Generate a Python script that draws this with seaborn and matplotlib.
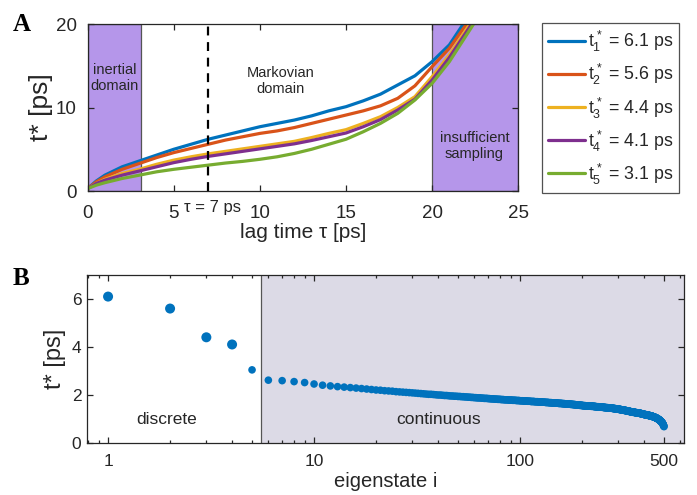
import numpy as np
import pandas as pd
import matplotlib
matplotlib.use("Agg")
import matplotlib.pyplot as plt
from matplotlib.ticker import FixedLocator, NullFormatter, LogLocator
import seaborn as sns

# ---------------- data ----------------
lag_time = [0, 0.5, 1, 2, 3, 4, 5, 6, 7, 8, 9, 10, 11, 12, 13, 14, 15, 16,
            17, 18, 19, 20, 21, 22, 23]
t1 = [0.3, 1.2, 1.9, 2.9, 3.6, 4.3, 5.0, 5.6, 6.2, 6.7, 7.2, 7.7, 8.1, 8.5,
      9.0, 9.6, 10.1, 10.8, 11.6, 12.7, 13.8, 15.5, 17.5, 20.6, 23.7]
t2 = [0.3, 1.1, 1.7, 2.6, 3.3, 4.0, 4.6, 5.1, 5.6, 6.1, 6.5, 6.9, 7.2, 7.6,
      8.1, 8.6, 9.1, 9.6, 10.2, 11.1, 12.6, 14.9, 17.1, 20.0, 23.0]
t3 = [0.3, 0.9, 1.4, 2.1, 2.6, 3.2, 3.7, 4.1, 4.45, 4.75, 5.05, 5.35, 5.65,
      5.95, 6.4, 6.9, 7.35, 8.1, 8.9, 10.0, 11.3, 13.7, 16.3, 19.4, 22.5]
t4 = [0.3, 0.9, 1.3, 1.9, 2.4, 2.9, 3.4, 3.8, 4.15, 4.45, 4.75, 5.05, 5.35,
      5.65, 6.05, 6.5, 6.95, 7.7, 8.55, 9.7, 11.0, 13.3, 16.0, 19.1, 22.2]
t5 = [0.3, 0.7, 1.0, 1.5, 1.9, 2.3, 2.6, 2.85, 3.1, 3.35, 3.55, 3.8, 4.1,
      4.5, 5.0, 5.6, 6.2, 7.1, 8.1, 9.3, 10.9, 12.9, 15.5, 18.7, 21.9]
series_labels = [r"$t^*_1$ = 6.1 ps", r"$t^*_2$ = 5.6 ps", r"$t^*_3$ = 4.4 ps",
                 r"$t^*_4$ = 4.1 ps", r"$t^*_5$ = 3.1 ps"]

# panel B: eigenstate timescales
discrete_idx = [1, 2, 3, 4]
discrete_t = [6.1, 5.6, 4.4, 4.1]
continuous_start = 5
continuous_t = [
    3.04,
    2.61, 2.59, 2.55, 2.51, 2.45, 2.40, 2.37, 2.34, 2.32, 2.30,
    2.28, 2.26, 2.24, 2.22, 2.20, 2.19, 2.17, 2.16, 2.15, 2.13,
    2.12, 2.11, 2.10, 2.09, 2.08, 2.07, 2.06, 2.05, 2.04, 2.03,
    2.02, 2.02, 2.01, 2.00, 1.99, 1.99, 1.98, 1.97, 1.97, 1.96,
    1.95, 1.95, 1.94, 1.94, 1.93, 1.93, 1.92, 1.92, 1.91, 1.91,
    1.90, 1.90, 1.89, 1.89, 1.88, 1.88, 1.87, 1.87, 1.87, 1.86,
    1.86, 1.85, 1.85, 1.85, 1.84, 1.84, 1.83, 1.83, 1.83, 1.82,
    1.82, 1.82, 1.81, 1.81, 1.81, 1.80, 1.80, 1.80, 1.79, 1.79,
    1.79, 1.79, 1.78, 1.78, 1.78, 1.78, 1.77, 1.77, 1.77, 1.77,
    1.76, 1.76, 1.76, 1.76, 1.75, 1.75, 1.75, 1.75, 1.74, 1.74,
    1.74, 1.74, 1.74, 1.73, 1.73, 1.73, 1.73, 1.72, 1.72, 1.72,
    1.72, 1.72, 1.71, 1.71, 1.71, 1.71, 1.71, 1.70, 1.70, 1.70,
    1.70, 1.70, 1.69, 1.69, 1.69, 1.69, 1.69, 1.68, 1.68, 1.68,
    1.68, 1.68, 1.67, 1.67, 1.67, 1.67, 1.67, 1.66, 1.66, 1.66,
    1.66, 1.66, 1.66, 1.65, 1.65, 1.65, 1.65, 1.65, 1.64, 1.64,
    1.64, 1.64, 1.64, 1.64, 1.63, 1.63, 1.63, 1.63, 1.63, 1.62,
    1.62, 1.62, 1.62, 1.62, 1.62, 1.61, 1.61, 1.61, 1.61, 1.61,
    1.60, 1.60, 1.60, 1.60, 1.60, 1.59, 1.59, 1.59, 1.59, 1.59,
    1.58, 1.58, 1.58, 1.58, 1.58, 1.57, 1.57, 1.57, 1.57, 1.56,
    1.56, 1.56, 1.56, 1.56, 1.55, 1.55, 1.55, 1.55, 1.54, 1.54,
    1.55, 1.54, 1.54, 1.54, 1.54, 1.54, 1.54, 1.54, 1.53, 1.53,
    1.53, 1.53, 1.53, 1.53, 1.53, 1.52, 1.52, 1.52, 1.52, 1.52,
    1.52, 1.52, 1.51, 1.51, 1.51, 1.51, 1.51, 1.51, 1.50, 1.50,
    1.50, 1.50, 1.50, 1.50, 1.50, 1.49, 1.49, 1.49, 1.49, 1.49,
    1.49, 1.49, 1.48, 1.48, 1.48, 1.48, 1.48, 1.48, 1.47, 1.47,
    1.47, 1.47, 1.47, 1.47, 1.47, 1.46, 1.46, 1.46, 1.46, 1.46,
    1.46, 1.46, 1.45, 1.45, 1.45, 1.45, 1.45, 1.45, 1.44, 1.44,
    1.44, 1.44, 1.44, 1.44, 1.44, 1.43, 1.43, 1.43, 1.43, 1.43,
    1.43, 1.42, 1.42, 1.42, 1.42, 1.42, 1.41, 1.41, 1.41, 1.41,
    1.41, 1.40, 1.40, 1.40, 1.40, 1.40, 1.39, 1.39, 1.39, 1.39,
    1.39, 1.38, 1.38, 1.38, 1.38, 1.37, 1.37, 1.37, 1.37, 1.36,
    1.36, 1.36, 1.36, 1.36, 1.35, 1.35, 1.35, 1.35, 1.35, 1.34,
    1.34, 1.34, 1.34, 1.33, 1.33, 1.33, 1.33, 1.32, 1.32, 1.32,
    1.32, 1.31, 1.31, 1.31, 1.31, 1.30, 1.30, 1.30, 1.30, 1.29,
    1.29, 1.29, 1.29, 1.28, 1.28, 1.28, 1.28, 1.27, 1.27, 1.27,
    1.27, 1.27, 1.27, 1.27, 1.26, 1.26, 1.26, 1.26, 1.26, 1.25,
    1.25, 1.25, 1.25, 1.25, 1.25, 1.24, 1.24, 1.24, 1.24, 1.24,
    1.24, 1.23, 1.23, 1.23, 1.23, 1.23, 1.22, 1.22, 1.22, 1.22,
    1.22, 1.21, 1.21, 1.21, 1.21, 1.20, 1.20, 1.20, 1.20, 1.19,
    1.19, 1.19, 1.19, 1.18, 1.18, 1.18, 1.18, 1.17, 1.17, 1.17,
    1.17, 1.17, 1.17, 1.16, 1.16, 1.16, 1.16, 1.16, 1.15, 1.15,
    1.15, 1.15, 1.15, 1.14, 1.14, 1.14, 1.14, 1.14, 1.13, 1.13,
    1.13, 1.13, 1.13, 1.12, 1.12, 1.12, 1.12, 1.11, 1.11, 1.11,
    1.11, 1.10, 1.10, 1.10, 1.10, 1.09, 1.09, 1.09, 1.08, 1.08,
    1.08, 1.07, 1.07, 1.07, 1.06, 1.06, 1.06, 1.05, 1.05, 1.05,
    1.04, 1.04, 1.03, 1.03, 1.03, 1.02, 1.02, 1.01, 1.01, 1.00,
    1.00, 0.99, 0.99, 0.98, 0.98, 0.97, 0.97, 0.96, 0.95, 0.95,
    0.94, 0.94, 0.93, 0.92, 0.92, 0.91, 0.90, 0.89, 0.89, 0.88,
    0.87, 0.86, 0.85, 0.84, 0.83, 0.82, 0.81, 0.79, 0.78, 0.77,
    0.75, 0.73, 0.71, 0.69, 0.67,
]
b_xticks = [1, 10, 100, 500]

# ---------------- style ----------------
sns.set_style("ticks")
plt.rcParams["font.family"] = ["Liberation Sans", "DejaVu Sans"]
plt.rcParams["mathtext.fontset"] = "custom"
plt.rcParams["mathtext.rm"] = "Liberation Sans"
plt.rcParams["mathtext.it"] = "Liberation Sans"
plt.rcParams["mathtext.bf"] = "Liberation Sans:bold"
plt.rcParams["axes.edgecolor"] = "#262626"
plt.rcParams["axes.linewidth"] = 0.9

colors = ["#0072BD", "#D95319", "#EDB120", "#7E2F8E", "#77AC30"]
band_a = "#b596ea"
band_b = "#dcdae6"
txt = "#262626"

fig = plt.figure(figsize=(6.97, 4.95), dpi=100)

# ---------------- panel A ----------------
axA = fig.add_axes([0.1258, 0.6141, 0.6178, 0.3374])
axA.axvspan(0, 3.1, facecolor=band_a, edgecolor="#555555", lw=0.9, zorder=0)
axA.axvspan(20, 25, facecolor=band_a, edgecolor="#555555", lw=0.9, zorder=0)

rows = []
for lab, vals in zip(series_labels, [t1, t2, t3, t4, t5]):
    for x, y in zip(lag_time, vals):
        rows.append({"tau": x, "t": y, "series": lab})
dfA = pd.DataFrame(rows)
sns.lineplot(data=dfA, x="tau", y="t", hue="series", palette=colors,
             hue_order=series_labels, linewidth=2.3, ax=axA, legend=False,
             sort=True, estimator=None)
axA.axvline(7, color="black", ls=(0, (4, 3)), lw=1.6, zorder=3)

axA.set_xlim(0, 25)
axA.set_ylim(0, 20)
axA.set_xticks([0, 5, 10, 15, 20, 25])
axA.set_yticks([0, 10, 20])
axA.tick_params(direction="in", top=True, right=True, length=4, width=0.9,
                labelsize=13.5, colors=txt, pad=8)
axA.tick_params(axis="x", pad=10)
axA.set_xlabel("lag time τ [ps]", fontsize=15, color=txt, labelpad=1)
axA.set_ylabel("t* [ps]", fontsize=19, color=txt, labelpad=2)

axA.text(1.55, 13.5, "inertial\ndomain", ha="center", va="center",
         fontsize=10.5, color=txt, linespacing=1.15)
axA.text(11.2, 13.2, "Markovian\ndomain", ha="center", va="center",
         fontsize=10.5, color=txt, linespacing=1.15)
axA.text(22.45, 5.4, "insufficient\nsampling", ha="center", va="center",
         fontsize=10.5, color=txt, linespacing=1.15)
axA.text(7.25, -0.1, "τ = 7 ps", transform=axA.get_xaxis_transform(),
         ha="center", va="center", fontsize=12, color=txt)

handles = [plt.Line2D([], [], color=c, lw=2.3) for c in colors]
leg = fig.legend(handles, series_labels, loc="upper left",
                 bbox_to_anchor=(541.5 / 697, 1 - 23 / 495),
                 bbox_transform=fig.transFigure, frameon=True, fancybox=False,
                 fontsize=12.8, handlelength=2.1, handletextpad=0.15,
                 labelspacing=0.45, borderpad=0.35, borderaxespad=0)
leg.get_frame().set_edgecolor("#262626")
leg.get_frame().set_linewidth(0.9)
for t in leg.get_texts():
    t.set_color(txt)

# ---------------- panel B ----------------
axB = fig.add_axes([0.1248, 0.1057, 0.8565, 0.3387])
axB.set_xscale("log")
axB.axvspan(5.5, 700, facecolor=band_b, edgecolor="none", zorder=0)
axB.axvline(5.5, color="#555555", lw=0.9, zorder=1)

cont_idx = list(range(continuous_start, continuous_start + len(continuous_t)))
sns.scatterplot(x=discrete_idx, y=discrete_t, ax=axB, color=colors[0], s=52,
                edgecolor="none", zorder=3)
sns.scatterplot(x=cont_idx, y=continuous_t, ax=axB, color=colors[0], s=30,
                edgecolor="none", zorder=3)

axB.set_xlim(0.79, 625)
axB.set_ylim(0, 7)
axB.set_yticks([0, 2, 4, 6])
axB.xaxis.set_major_locator(FixedLocator(b_xticks))
axB.set_xticklabels([str(v) for v in b_xticks])
axB.xaxis.set_minor_locator(LogLocator(base=10, subs=np.arange(2, 10)))
axB.xaxis.set_minor_formatter(NullFormatter())
axB.tick_params(which="both", direction="in", top=True, right=True,
                width=0.9, colors=txt)
axB.tick_params(which="major", length=4, labelsize=12.5, pad=8)
axB.tick_params(which="minor", length=2.5)
axB.tick_params(axis="y", pad=4)
axB.set_xlabel("eigenstate i", fontsize=14.5, color=txt, labelpad=2)
axB.set_ylabel("t* [ps]", fontsize=17, color=txt, labelpad=4)

axB.text(1.92, 0.98, "discrete", ha="center", va="center", fontsize=12.5,
         color=txt)
axB.text(40, 0.98, "continuous", ha="center", va="center", fontsize=12.5,
         color=txt)

for ax in (axA, axB):
    for s in ax.spines.values():
        s.set_visible(True)
        s.set_zorder(5)

fig.text(13 / 697, 1 - 31 / 495, "A", fontsize=18, fontweight="bold",
         family="Liberation Serif", ha="left", va="baseline", color="black")
fig.text(13 / 697, 1 - 285 / 495, "B", fontsize=18, fontweight="bold",
         family="Liberation Serif", ha="left", va="baseline", color="black")

fig.savefig("out.png", dpi=100)
